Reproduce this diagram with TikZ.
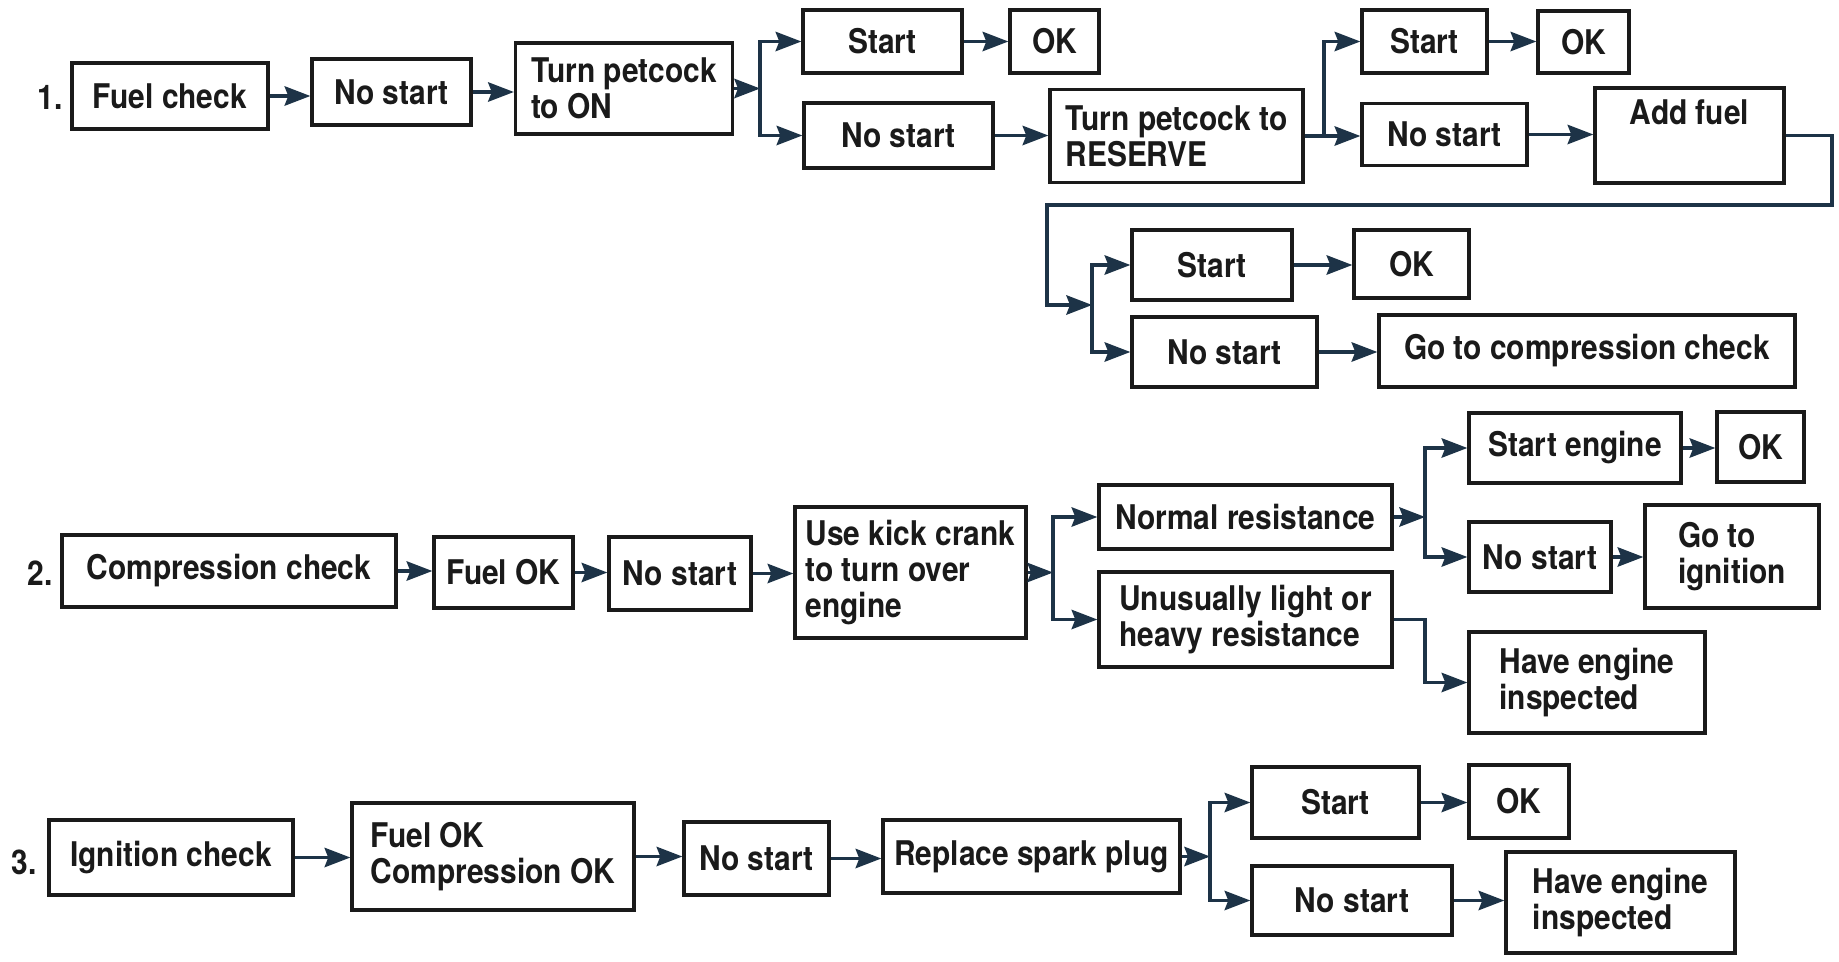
\documentclass[tikz,border=0pt]{standalone}
\usepackage{fontspec}
\setmainfont{TeX Gyre Heros}[FakeStretch=0.88]
\usepackage{tikz}
\usetikzlibrary{arrows.meta}
\definecolor{ink}{HTML}{1A1A1A}
\definecolor{flowc}{HTML}{1D3347}
\tikzstyle{box} = [draw=ink, line width=3.5pt, inner sep=4pt, align=left, text=ink, font=\fontsize{34}{36}\selectfont\bfseries]
\tikzstyle{num} = [text=ink, font=\fontsize{34}{36}\selectfont\bfseries]
\tikzstyle{conn} = [draw=flowc, line width=3.5pt, -{Stealth[length=26pt, width=20pt, inset=4pt, line width=0pt]}]

\begin{document}
\begin{tikzpicture}[x=1pt, y=-1pt]
	\useasboundingbox (0,0) rectangle (1839,961);

	\node[num] (n1) at (50,97) {1.};
	\node[box, minimum width=196pt, minimum height=66pt] (fuel) at (170,96) {Fuel check};
	\node[box, minimum width=159pt, minimum height=66pt] (ns1) at (391.5,92) {No start};
	\node[box, minimum width=217pt, minimum height=91pt] (pon) at (624,88.5) {Turn petcock\\to ON};
	\node[box, minimum width=159pt, minimum height=63pt] (st1) at (882.5,41.5) {Start};
	\node[box, minimum width=89pt, minimum height=63pt] (ok1) at (1054.5,41.5) {OK};
	\node[box, minimum width=189pt, minimum height=65pt] (ns2) at (898.5,135.5) {No start};
	\node[box, minimum width=253pt, minimum height=93pt] (res) at (1176.5,136) {Turn petcock to\\RESERVE};
	\node[box, minimum width=125pt, minimum height=63pt] (st2) at (1424.5,41.5) {Start};
	\node[box, minimum width=91pt, minimum height=62pt] (ok2) at (1583.5,42) {OK};
	\node[box, minimum width=165pt, minimum height=62pt] (ns3) at (1444.5,134.5) {No start};
	\node[box, minimum width=189pt, minimum height=95pt] (add) at (1689.5,135.5) {Add fuel\\\strut};
	\node[box, minimum width=160pt, minimum height=70pt] (st3) at (1212,265) {Start};
	\node[box, minimum width=115pt, minimum height=68pt] (ok3) at (1411.5,264) {OK};
	\node[box, minimum width=185pt, minimum height=70pt] (ns4) at (1224.5,352) {No start};
	\node[box, minimum width=416pt, minimum height=72pt] (gocomp) at (1587,351) {Go to compression check};

	\coordinate (j1) at (760,88.5);
	\coordinate (j2) at (1324,136);
	\coordinate (r1) at (1832,205);
	\coordinate (r2) at (1047,205);
	\coordinate (j3) at (1092,305);

	\draw[conn] (fuel) -- (fuel -| ns1.west);
	\draw[conn] (ns1) -- (ns1 -| pon.west);
	\draw[conn] (pon) -- (j1);
	\draw[conn] (j1) |- (st1);
	\draw[conn] (j1) |- (ns2);
	\draw[conn] (st1) -- (st1 -| ok1.west);
	\draw[conn] (ns2) -- (ns2 -| res.west);
	\draw[conn] (res) -- (res -| ns3.west);
	\draw[conn] (j2) |- (st2);
	\draw[conn] (st2) -- (st2 -| ok2.west);
	\draw[conn] (ns3) -- (ns3 -| add.west);
	\draw[conn] (add.east) -| (r1) -- (r2) |- (j3);
	\draw[conn] (j3) |- (st3);
	\draw[conn] (j3) |- (ns4);
	\draw[conn] (st3) -- (st3 -| ok3.west);
	\draw[conn] (ns4) -- (ns4 -| gocomp.west);

	\node[num] (n2) at (40,573) {2.};
	\node[box, minimum width=334pt, minimum height=72pt] (comp) at (229,571) {Compression check};
	\node[box, minimum width=139pt, minimum height=71pt] (fok) at (503.5,572.5) {Fuel OK};
	\node[box, minimum width=142pt, minimum height=73pt] (ns5) at (680,573.5) {No start};
	\node[box, minimum width=231pt, minimum height=131pt] (kick) at (910.5,572.5) {Use kick crank\\to turn over\\engine};
	\node[box, minimum width=293pt, minimum height=64pt] (normal) at (1245.5,517) {Normal resistance};
	\node[box, minimum width=293pt, minimum height=95pt] (unus) at (1245.5,619.5) {Unusually light or\\heavy resistance};
	\node[box, minimum width=212pt, minimum height=70pt] (stE) at (1575,448) {Start engine};
	\node[box, minimum width=87pt, minimum height=70pt] (ok4) at (1760.5,447) {OK};
	\node[box, minimum width=142pt, minimum height=70pt] (ns6) at (1540,557) {No start};
	\node[box, minimum width=174pt, minimum height=103pt] (goign) at (1732,556.5) {Go to\\ignition};
	\node[box, minimum width=236pt, minimum height=101pt] (insp1) at (1587,682.5) {Have engine\\inspected};

	\coordinate (j4) at (1053,572.5);
	\coordinate (j5) at (1425,517);
	\coordinate (j7) at (1425,619.5);

	\draw[conn] (comp) -- (comp -| fok.west);
	\draw[conn] (fok) -- (fok -| ns5.west);
	\draw[conn] (ns5) -- (ns5 -| kick.west);
	\draw[conn] (kick) -- (j4);
	\draw[conn] (j4) |- (normal);
	\draw[conn] (j4) |- (unus);
	\draw[conn] (normal) -- (j5);
	\draw[conn] (j5) |- (stE);
	\draw[conn] (j5) |- (ns6);
	\draw[conn] (stE) -- (stE -| ok4.west);
	\draw[conn] (ns6) -- (ns6 -| goign.west);
	\draw[conn] (unus) -- (j7) |- (insp1);

	\node[num] (n3) at (24,862) {3.};
	\node[box, minimum width=244pt, minimum height=75pt] (ign) at (171,857.5) {Ignition check};
	\node[box, minimum width=282pt, minimum height=107pt] (fc) at (493,856.5) {Fuel OK\\Compression OK};
	\node[box, minimum width=145pt, minimum height=73pt] (ns7) at (756.5,858.5) {No start};
	\node[box, minimum width=297pt, minimum height=73pt] (spark) at (1031.5,856.5) {Replace spark plug};
	\node[box, minimum width=167pt, minimum height=71pt] (st4) at (1335.5,802.5) {Start};
	\node[box, minimum width=100pt, minimum height=73pt] (ok5) at (1519,801.5) {OK};
	\node[box, minimum width=200pt, minimum height=69pt] (ns8) at (1352,900.5) {No start};
	\node[box, minimum width=229pt, minimum height=101pt] (insp2) at (1620.5,902.5) {Have engine\\inspected};

	\coordinate (j6) at (1210,856.5);

	\draw[conn] (ign) -- (ign -| fc.west);
	\draw[conn] (fc) -- (fc -| ns7.west);
	\draw[conn] (ns7) -- (ns7 -| spark.west);
	\draw[conn] (spark) -- (j6);
	\draw[conn] (j6) |- (st4);
	\draw[conn] (j6) |- (ns8);
	\draw[conn] (st4) -- (st4 -| ok5.west);
	\draw[conn] (ns8) -- (ns8 -| insp2.west);
\end{tikzpicture}
\end{document}
